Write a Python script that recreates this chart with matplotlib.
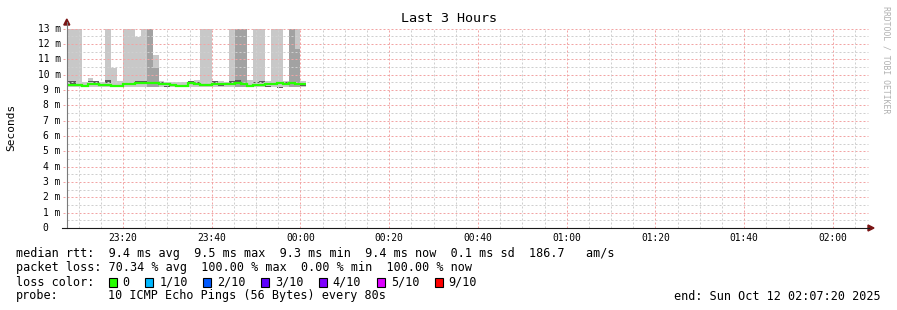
import matplotlib
matplotlib.use("Agg")
import matplotlib.pyplot as plt
import numpy as np
from matplotlib.patches import Polygon, Rectangle
from matplotlib.lines import Line2D
from matplotlib.transforms import blended_transform_factory

W, H, DPI = 897, 310, 100
MONO = "DejaVu Sans Mono"

# ---------------- data ----------------
step_sec = 80
first_step = 23 * 3600 + 6 * 60 + 40          # 23:06:40
t_start = 23 * 3600 + 7 * 60 + 20             # 23:07:20
t_end = t_start + 3 * 3600                    # 02:07:20 (next day)

median = [9.33, 9.33, 9.30, 9.28, 9.36, 9.36, 9.33, 9.34, 9.28, 9.26,
          9.40, 9.40, 9.45, 9.46, 9.44, 9.42, 9.36, 9.36, 9.34, 9.28,
          9.26, 9.42, 9.40, 9.32, 9.30, 9.40, 9.40, 9.36, 9.40, 9.42,
          9.40, 9.26, 9.34, 9.34, 9.36, 9.40, 9.42, 9.40, 9.42, 9.38,
          9.36]
smoke_lo = [9.20, 9.20, 9.20, 9.20, 9.20, 9.18, 9.20, 9.20, 9.16, 9.20,
            9.20, 9.20, 9.20, 9.20, 9.20, 9.20, 9.20, 9.18, 9.20, 9.18,
            9.20, 9.20, 9.20, 9.20, 9.20, 9.20, 9.20, 9.20, 9.20, 9.20,
            9.20, 9.18, 9.20, 9.20, 9.20, 9.20, 9.15, 9.20, 9.20, 9.20,
            9.22]
smoke_hi = [14, 14, 14, 9.52, 9.75, 9.55, 9.52, 14, 10.42, 9.55,
            14, 14, 12.47, 14, 14, 11.25, 9.55, 9.52, 9.52, 9.50,
            9.52, 9.60, 9.67, 14, 14, 9.55, 9.55, 9.52, 14, 14,
            14, 9.62, 14, 14, 9.55, 14, 14, 9.60, 14, 14,
            9.55]
dark_hi = [0, 0, 0, 0, 0, 0, 0, 0, 0, 0,
           0, 0, 0, 0, 14, 10.42, 0, 0, 0, 0,
           0, 0, 0, 0, 0, 0, 0, 0, 0, 14,
           14, 0, 0, 0, 0, 0, 0, 0, 14, 11.68,
           0]
core_lo = [9.45, 9.40, 9.30, 9.30, 9.50, 9.48, 9.30, 9.45, 9.18, 9.30,
           9.38, 9.30, 9.48, 9.50, 9.30, 9.30, 9.45, 9.22, 9.30, 9.20,
           9.30, 9.50, 9.42, 9.30, 9.30, 9.48, 9.24, 9.30, 9.48, 9.52,
           9.30, 9.20, 9.45, 9.48, 9.22, 9.30, 9.15, 9.45, 9.40, 9.30,
           9.28]
core_hi = [9.60, 9.55, 9.30, 9.30, 9.60, 9.60, 9.30, 9.62, 9.24, 9.30,
           9.42, 9.30, 9.55, 9.56, 9.30, 9.30, 9.52, 9.28, 9.30, 9.26,
           9.30, 9.58, 9.50, 9.30, 9.30, 9.56, 9.30, 9.30, 9.58, 9.62,
           9.30, 9.25, 9.52, 9.55, 9.28, 9.30, 9.22, 9.50, 9.46, 9.30,
           9.40]

ytick_vals = list(range(0, 14))
ytick_labels = ["0"] + [f"{v} m" for v in range(1, 14)]
xtick_secs = [23 * 3600 + 20 * 60 + k * 1200 for k in range(9)]
xtick_labels = ["23:20", "23:40", "00:00", "00:20", "00:40",
                "01:00", "01:20", "01:40", "02:00"]

rtt_stats = [9.4, 9.5, 9.3, 9.4, 0.1]
rtt_amps = 186.7
loss_stats = [70.34, 100.00, 0.00, 100.00]
loss_labels = ["0", "1/10", "2/10", "3/10", "4/10", "5/10", "9/10"]
loss_colors = ["#26ff00", "#00b8ff", "#0059ff", "#5e00ff",
               "#7e00ff", "#dd00ff", "#ff0000"]
probe_text = "10 ICMP Echo Pings (56 Bytes) every 80s"
end_text = "end: Sun Oct 12 02:07:20 2025"

# ---------------- figure ----------------
fig = plt.figure(figsize=(W / DPI, H / DPI), dpi=DPI)
fig.patch.set_facecolor("white")


def fx(x):
    return x / W


def fy(y):
    return 1 - y / H


X0, X1 = 66.8, 865.5
Y0, Y13 = 228.0, 28.5
ax = fig.add_axes([fx(X0), fy(Y0), fx(X1) - fx(X0), (Y0 - Y13) / H])
ax.set_xlim(t_start, t_end)
ax.set_ylim(0, 13)
for s in ax.spines.values():
    s.set_visible(False)
ax.set_xticks([])
ax.set_yticks([])
ax.patch.set_alpha(0)

n = len(median)
starts = first_step + step_sec * np.arange(n)
edges = first_step + step_sec * np.arange(n + 1)
lo = np.array(smoke_lo)
hi = np.array(smoke_hi)
dk = np.array(dark_hi)
clo = np.array(core_lo)
chi = np.array(core_hi)

ax.bar(starts, hi - lo, bottom=lo, width=step_sec, align="edge",
       color="#c8c8c8", linewidth=0, zorder=1)
ax.bar(starts, np.clip(dk - lo, 0, None), bottom=lo, width=step_sec,
       align="edge", color="#a2a2a2", linewidth=0, zorder=2)
ax.bar(starts, chi - clo, bottom=clo, width=step_sec, align="edge",
       color="#5a5a5a", linewidth=0, zorder=3)

# grid (dotted)
minor_col, major_col = "#cfcfcf", "#f2a4a4"
dash = (0, (2, 2))
gkw = dict(lw=0.72, ls=dash, zorder=4)
for v in np.arange(0.5, 13, 1.0):
    ax.axhline(v, xmin=0, xmax=1.003, color=minor_col, clip_on=False, **gkw)
for v in range(1, 14):
    ax.axhline(v, xmin=-0.005, xmax=1.003, color=major_col, clip_on=False, **gkw)
for t in range(23 * 3600 + 10 * 60, t_end, 300):
    if t in xtick_secs:
        continue
    ax.axvline(t, color=minor_col, **gkw)
for t in xtick_secs:
    ax.axvline(t, color=major_col, **gkw)

# median line
ax.stairs(median, edges, baseline=None, color="#26ff00", lw=1.6, zorder=6)

# axes lines and arrows
fig.add_artist(Line2D([fx(X0), fx(X0)], [fy(Y0), fy(22)], color="#7a7a7a",
                      lw=0.8, transform=fig.transFigure))
fig.add_artist(Line2D([fx(62), fx(869)], [fy(Y0), fy(Y0)], color="#1a1a1a",
                      lw=0.8, transform=fig.transFigure))
fig.add_artist(Polygon([(fx(X0 - 3), fy(25)), (fx(X0 + 3), fy(25)),
                        (fx(X0), fy(19))], closed=True, color="#7a1414",
                       transform=fig.transFigure))
fig.add_artist(Polygon([(fx(868), fy(Y0 - 3)), (fx(868), fy(Y0 + 3)),
                        (fx(874), fy(Y0))], closed=True, color="#7a1414",
                       transform=fig.transFigure))

# tick labels
ty = blended_transform_factory(fig.transFigure, ax.transData)
for v, lab in zip(ytick_vals, ytick_labels):
    xr = 60.5 if v > 0 else 48.5
    fig.text(fx(xr), v, lab, transform=ty, ha="right", va="center",
             family=MONO, fontsize=6.9, color="#000000")
tx = blended_transform_factory(ax.transData, fig.transFigure)
for t, lab in zip(xtick_secs, xtick_labels):
    fig.text(t, fy(238), lab, transform=tx, ha="center", va="center",
             family=MONO, fontsize=6.9, color="#000000")

# titles
fig.text(fx(448.5), fy(19), "Last 3 Hours", ha="center", va="center",
         family=MONO, fontsize=9.6)
fig.text(fx(11), fy(127), "Seconds", ha="center", va="center",
         rotation=90, family=MONO, fontsize=8)
fig.text(fx(886), fy(59.5), "RRDTOOL / TOBI OETIKER", ha="center",
         va="center", rotation=-90, family=MONO, fontsize=5.9,
         color="#b0b0b0")

# legend
LF = 8.5
line1 = ("median rtt:  {:.1f} ms avg  {:.1f} ms max  {:.1f} ms min  "
         "{:.1f} ms now  {:.1f} ms sd  {:.1f}   am/s").format(*rtt_stats, rtt_amps)
line2 = ("packet loss: {:.2f} % avg  {:.2f} % max  {:.2f} % min  "
         "{:.2f} % now").format(*loss_stats)
fig.text(fx(16), fy(254), line1, ha="left", va="center", family=MONO, fontsize=LF)
fig.text(fx(16), fy(268), line2, ha="left", va="center", family=MONO, fontsize=LF)
fig.text(fx(16), fy(282), "loss color:", ha="left", va="center",
         family=MONO, fontsize=LF)
cw = 7.09
x = 108.7
for lab, col in zip(loss_labels, loss_colors):
    fig.add_artist(Rectangle((fx(x), fy(286.5)), 8 / W, 9 / H,
                             facecolor=col, edgecolor="black", lw=0.8,
                             transform=fig.transFigure))
    fig.text(fx(x + 14), fy(282), lab, ha="left", va="center",
             family=MONO, fontsize=LF)
    x = x + 14 + len(lab) * cw + 15.5
fig.text(fx(16), fy(296), "probe:", ha="left", va="center",
         family=MONO, fontsize=LF)
fig.text(fx(108), fy(296), probe_text, ha="left", va="center",
         family=MONO, fontsize=LF)
fig.text(fx(881), fy(296), end_text, ha="right", va="center",
         family=MONO, fontsize=LF)

fig.savefig("out.png", dpi=DPI, facecolor="white")
